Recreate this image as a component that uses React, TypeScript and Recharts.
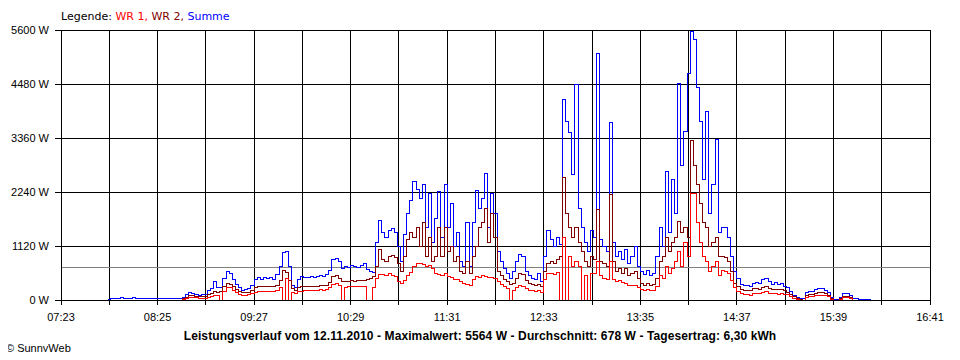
import React from 'react';
import { LineChart, Line, XAxis, YAxis, CartesianGrid, ReferenceLine } from 'recharts';

// time axis: minutes after 07:23, one sample every 2 minutes starting at 07:53
const START_MIN = 30;
const STEP_MIN = 2;
const xTickLabels = ['07:23', '08:25', '09:27', '10:29', '11:31', '12:33', '13:35', '14:37', '15:39', '16:41'];
const yTicks = [0, 1120, 2240, 3360, 4480, 5600];
const averageW = 678;

const summe: (number | null)[] = [
  20, 30, 30, 35, 50, 30, 30, 40, 50, 30,
  30, 30, 30, 30, 35, 30, 30, 30, 30, 35,
  30, 30, 40, 40, 50,
  110, 150, 140, 120, 100,
  110, 120, 200, 240, 380, 250, 260, 450, 590, 560,
  420, 330, 250, 200, 210, 240, 310, 430, 470, 420,
  460, 440, 470, 430, 520, 700, 980, 1000, 700, 300,
  260, 420, 480, 460, 470, 490, 460, 480, 500, 490,
  520, 620, 850, 870, 800, 650, 690, 680, 720, 700,
  680, 720, 760, 640, 600, 580, 1200, 1650, 1400, 1300,
  1450, 1480, 1400, 1100, 800, 1350, 1800, 2070, 2450, 2300,
  2100, 2400, 1500, 2200, 1200, 1700, 2250, 1300, 2390, 1500,
  2000, 1100, 1400, 800, 700, 1600, 700, 1600, 2280, 1900,
  2100, 2630, 1500, 2200, 1800, 1000, 800, 650, 560, 450,
  600, 800, 950, 900, 600, 500, 450, 420, 560, 380,
  900, 1450, 1250, 1100, 1300, 1150, 4150, 3700, 3480, 2600,
  4480, 1900, 1500, 1200, 1000, 1450, 1300, 5120, 1250, 1100,
  1000, 3690, 1200, 900, 1000, 850, 1050, 750, 900, 1120,
  700, 600, 520, 620, 500, 560, 900, 1500, 1100, 2660,
  1400, 2500, 1800, 4500, 2800, 3500, 4700, 5560, 5400, 4400,
  3700, 2500, 3900, 1800, 2400, 3320, 1400, 1500, 1500, 1300,
  900, 600, 450, 320, 300, 310, 290, 350, 370, 340,
  420, 450, 380, 330, 360, 320, 350, 280, 250, 170,
  90, 50, 30, 30, 150, 170, 180, 210, 230, 230,
  200, 150, 50, 20, 20, 60, 130, 140, 100, 30,
  30, 20, 10, 10, 20, 20, null,
];

const wr2: (number | null)[] = [
  null, null, null, null, null, null, null, null, null, null,
  null, null, null, null, null, null, null, null, null, null,
  null, null, null, null, 30,
  60, 90, 100, 80, 70,
  70, 80, 110, 140, 180, 150, 170, 270, 350, 330,
  270, 210, 170, 150, 150, 160, 200, 260, 280, 270,
  280, 270, 280, 280, 310, 400, 620, 580, 400, 230,
  200, 260, 280, 290, 280, 290, 280, 290, 300, 300,
  310, 360, 480, 500, 450, 380, 380, 380, 400, 390,
  400, 400, 410, 420, 440, 480, 700, 1050, 850, 800,
  900, 920, 880, 750, 600, 900, 1250, 1400, 1300, 1500,
  1100, 1600, 900, 1300, 800, 900, 1500, 900, 1500, 1000,
  1100, 800, 900, 600, 550, 800, 560, 900, 1100, 1500,
  1600, 1900, 1200, 1800, 1300, 600, 500, 420, 380, 330,
  350, 450, 560, 520, 400, 350, 320, 300, 330, 280,
  600, 750, 800, 750, 850, 900, 2550, 1800, 1500, 1300,
  1500, 1200, 1000, 800, 700, 900, 850, 1870, 800, 750,
  700, 2180, 800, 600, 650, 550, 650, 500, 550, 600,
  450, 350, 300, 350, 300, 330, 450, 800, 900, 1300,
  1000, 1200, 1300, 1620, 1400, 1500, 1300, 3300, 2800, 2400,
  2000, 1600, 1500, 1100, 1200, 1300, 900, 900, 880, 800,
  600, 350, 280, 220, 200, 200, 190, 230, 240, 220,
  260, 280, 240, 210, 220, 210, 220, 190, 160, 120,
  70, 30, 10, 0, 100, 110, 120, 140, 150, 150,
  140, 100, 30, 0, 0, 40, 80, 80, 60, 0,
  null, null, null, null, null, null, null,
];

const wr1: (number | null)[] = [
  null, null, null, null, null, null, null, null, null, null,
  null, null, null, null, null, null, null, null, null, null,
  null, null, null, null, 20,
  40, 50, 60, 50, 40,
  30, 40, 60, 80, 100, 90, 0, 180, 260, 250,
  190, 150, 110, 100, 100, 110, 130, 160, 170, 170,
  170, 170, 170, 170, 190, 260, 0, 450, 0, 150,
  140, 170, 180, 200, 190, 190, 200, 200, 210, 200,
  220, 260, 330, 350, 310, 0, 260, 270, 280, 290,
  280, 290, 290, 0, 0, 260, 450, 520, 520, 500,
  540, 500, 480, 380, 350, 400, 500, 580, 700, 760,
  760, 740, 700, 720, 660, 560, 520, 500, 540, 480,
  460, 420, 430, 380, 340, 330, 300, 420, 480, 460,
  500, 480, 460, 470, 450, 380, 330, 280, 230, 0,
  200, 260, 300, 280, 230, 200, 190, 170, 200, 160,
  420, 550, 560, 520, 580, 0, 1300, 0, 900, 700,
  800, 700, 0, 500, 0, 560, 550, 800, 500, 450,
  420, 800, 420, 380, 400, 360, 350, 300, 300, 300,
  250, 220, 200, 220, 190, 200, 280, 500, 450, 700,
  550, 650, 800, 1000, 700, 1200, 900, 2200, 2200, 1600,
  1200, 900, 800, 600, 700, 800, 500, 620, 600, 560,
  400, 250, 180, 130, 110, 110, 100, 140, 140, 130,
  160, 170, 140, 130, 140, 120, 140, 120, 110, 80,
  40, 20, 0, 0, 60, 70, 80, 90, 100, 100,
  90, 70, 20, 0, 0, 20, 50, 60, 40, 0,
  null, null, null, null, null, null, null,
];

const data = summe.map((s, i) => ({
  t: START_MIN + i * STEP_MIN,
  summe: s,
  wr2: wr2[i] ?? null,
  wr1: wr1[i] ?? null,
}));

const xTicks = Array.from({ length: 19 }, (_, i) => i * 31);
const FONT = '"Liberation Sans", Arial, sans-serif';
const WIDE_FONT = '"DejaVu Sans", Verdana, sans-serif';
const tickStyle = { fontSize: 11, fill: '#000', fontFamily: FONT };

export default function App() {
  return (
    <div style={{ position: 'relative', width: 944, height: 344, fontFamily: FONT, color: '#000' }}>
      <style>{`.rc svg path, .rc svg line { shape-rendering: crispEdges; }`}</style>
      <div className="rc">
        <LineChart width={944} height={344} data={data} margin={{ top: 22, right: 22, bottom: 0, left: 0 }}>
          <CartesianGrid stroke="#000" strokeWidth={1} />
          <ReferenceLine y={averageW} stroke="#808080" strokeWidth={1} ifOverflow="visible" />
          <XAxis
            dataKey="t"
            type="number"
            domain={[0, 558]}
            ticks={xTicks}
            interval={0}
            tickFormatter={(v: number) => (v % 62 === 0 ? xTickLabels[v / 62] : '')}
            tick={tickStyle}
            tickSize={5}
            tickMargin={8}
            height={52}
            stroke="#000"
            tickLine={{ stroke: '#000' }}
          />
          <YAxis
            type="number"
            domain={[0, 5600]}
            ticks={yTicks}
            interval={0}
            tickFormatter={(v: number) => `${v} W`}
            tick={tickStyle}
            tickSize={6}
            tickMargin={6}
            width={53}
            stroke="#000"
            tickLine={{ stroke: '#000' }}
          />
          <Line dataKey="summe" type="stepAfter" stroke="#0000ff" strokeWidth={1} dot={false} isAnimationActive={false} />
          <Line dataKey="wr2" type="stepAfter" stroke="#800000" strokeWidth={1} dot={false} isAnimationActive={false} />
          <Line dataKey="wr1" type="stepAfter" stroke="#ff0000" strokeWidth={1} dot={false} isAnimationActive={false} />
        </LineChart>
      </div>
      <div style={{ position: 'absolute', left: 53, top: 2, fontSize: 11, lineHeight: '13px', whiteSpace: 'nowrap', fontFamily: WIDE_FONT }}>
        Legende: <span style={{ color: '#ff0000' }}>WR 1,</span> <span style={{ color: '#800000' }}>WR 2,</span>{' '}
        <span style={{ color: '#0000ff' }}>Summe</span>
      </div>
      <div style={{ position: 'absolute', left: 0, width: 944, top: 321, fontSize: 12, lineHeight: '14px', fontWeight: 'bold', textAlign: 'center', whiteSpace: 'nowrap', letterSpacing: '0.1px' }}>
        Leistungsverlauf vom 12.11.2010 - Maximalwert: 5564 W - Durchschnitt: 678 W - Tagesertrag: 6,30 kWh
      </div>
      <div style={{ position: 'absolute', left: -2, top: 334, fontSize: 11, lineHeight: '13px', whiteSpace: 'nowrap' }}>
        © SunnyWeb
      </div>
    </div>
  );
}
